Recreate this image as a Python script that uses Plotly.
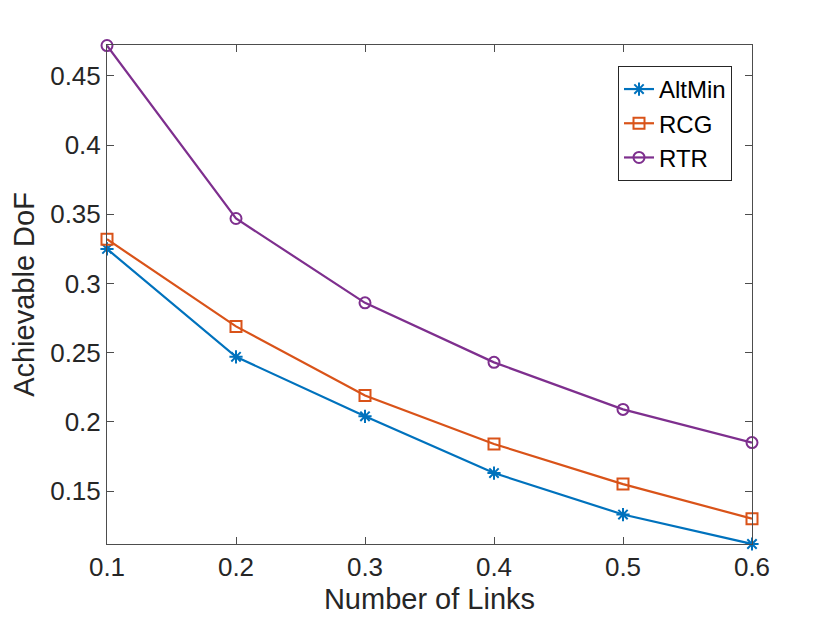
import plotly.graph_objects as go

# number of links (x axis)
links = [0.1, 0.2, 0.3, 0.4, 0.5, 0.6]

# achievable DoF per algorithm
altmin = [0.325, 0.247, 0.204, 0.163, 0.133, 0.1117]
rcg = [0.332, 0.269, 0.219, 0.184, 0.155, 0.130]
rtr = [0.472, 0.347, 0.286, 0.243, 0.209, 0.185]

x_ticks = [0.1, 0.2, 0.3, 0.4, 0.5, 0.6]
y_ticks = [0.15, 0.2, 0.25, 0.3, 0.35, 0.4, 0.45]

fig = go.Figure()

series = [
    ("AltMin", altmin, "#0072BD", "asterisk-open"),
    ("RCG", rcg, "#D95319", "square-open"),
    ("RTR", rtr, "#7E2F8E", "circle-open"),
]
for name, vals, col, sym in series:
    fig.add_trace(go.Scatter(
        x=links, y=vals, name=name, mode="lines+markers",
        line=dict(color=col, width=2.2),
        marker=dict(symbol=sym, size=11, color=col, line=dict(color=col, width=2)),
        cliponaxis=False,
    ))

axis_style = dict(
    showline=True, linecolor="#4d4d4d", linewidth=1, mirror="ticks",
    ticks="inside", ticklen=7, tickcolor="#4d4d4d",
    showgrid=False, zeroline=False,
    tickfont=dict(size=26, color="#262626"),
)

fig.update_xaxes(
    range=[0.1, 0.6], tickvals=x_ticks, ticktext=[str(v) for v in x_ticks],
    title=dict(text="Number of Links", font=dict(size=29, color="#262626"), standoff=7),
    **axis_style,
)
fig.update_yaxes(
    range=[0.1117, 0.4724], tickvals=y_ticks, ticktext=[str(v) for v in y_ticks],
    title=dict(text="Achievable DoF", font=dict(size=29, color="#262626"), standoff=9),
    **axis_style,
)

# page body adds an 8px offset, so margins are shifted to keep the axes in place
fig.update_layout(
    width=830, height=623,
    margin=dict(l=99, r=86, t=37, b=87),
    paper_bgcolor="white", plot_bgcolor="white",
    font=dict(family="Liberation Sans, Arial, sans-serif"),
    legend=dict(
        x=0.969, y=0.958, xanchor="right", yanchor="top",
        bordercolor="#262626", borderwidth=1, bgcolor="white",
        font=dict(size=24, color="black"),
        tracegroupgap=0,
    ),
)

fig.write_html("out.html")
